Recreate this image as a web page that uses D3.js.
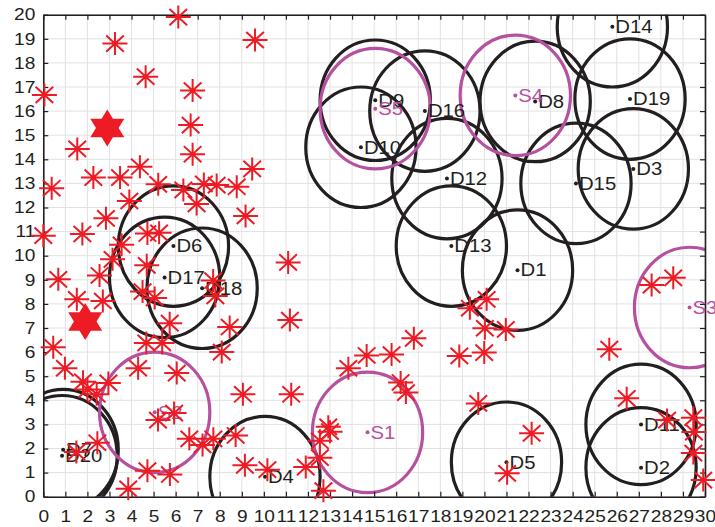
<!DOCTYPE html>
<html>
<head>
<meta charset="utf-8">
<script src="https://cdn.jsdelivr.net/npm/d3@7"></script>
<style>
  body { margin: 0; background: #fff; }
  svg text { font-family: "Liberation Sans", Arial, Helvetica, sans-serif; }
</style>
</head>
<body>
<svg id="chart" width="715" height="527"></svg>
<script>
// Demand points (D) and supply points (S), each with a coverage circle
const dNames = ["D1","D2","D3","D4","D5","D6","D7","D8","D9","D10",
                "D11","D12","D13","D14","D15","D16","D17","D18","D19","D20"];
const dX = [21.5, 27.1, 26.75, 10.05, 21.0, 5.9, 0.9, 22.3, 15.05, 14.4,
            27.1, 18.3, 18.5, 25.8, 24.15, 17.3, 5.5, 7.2, 26.6, 0.85];
const dY = [9.4, 1.2, 13.6, 0.83, 1.43, 10.4, 1.95, 16.4, 16.45, 14.5,
            3.0, 13.2, 10.4, 19.5, 13.0, 16.0, 9.1, 8.65, 16.5, 1.7];

const sNames = ["S1","S2","S3","S4","S5"];
const sX = [14.7, 5.05, 29.3, 21.4, 15.05];
const sY = [2.67, 3.5, 7.85, 16.65, 16.1];

const coverRadius = 2.5;

// Scattered candidate points (asterisks)
const starX = [6.12, 3.25, 9.6, 4.64, 6.77, 0.05, 6.68, 1.54, 6.77, 4.38,
               9.47, 2.27, 3.48, 0.38, 5.21, 6.35, 7.28, 7.86, 8.77, 3.9,
               6.95, 9.17, 2.84, 0.0, 1.77, 4.72, 5.25, 3.55, 11.1, 3.14,
               4.69, 0.68, 2.55, 1.52, 2.7, 4.5, 5.05, 7.7, 7.8, 5.73,
               8.45, 11.18, 4.67, 5.39, 8.09, 0.45, 0.98, 4.3, 6.05, 1.8,
               2.0, 2.42, 2.95, 9.05, 11.24, 5.2, 5.93, 2.45, 1.5, 6.62,
               7.22, 7.71, 8.72, 4.72, 5.74, 3.85, 9.14, 10.16, 11.9, 12.54,
               12.54, 12.92, 13.0, 12.7, 13.83, 14.66, 15.79, 16.8, 16.2, 16.44,
               19.34, 20.1, 20.02, 20.97, 18.86, 19.99, 19.72, 22.14, 21.03, 27.58,
               28.56, 25.66, 26.45, 28.28, 29.47, 29.5, 29.47, 29.92];
const starY = [19.9, 18.8, 18.95, 17.43, 16.85, 16.67, 15.42, 14.43, 14.21, 13.69,
               13.6, 13.24, 13.24, 12.8, 12.96, 12.73, 12.98, 12.93, 12.86, 12.27,
               12.15, 11.65, 11.55, 10.83, 10.9, 10.92, 10.95, 10.45, 9.72, 9.85,
               9.6, 9.02, 9.18, 8.19, 8.12, 8.51, 8.25, 8.97, 8.33, 7.2,
               7.04, 7.33, 6.38, 6.38, 6.0, 6.2, 5.33, 5.33, 5.13, 4.77,
               4.45, 4.25, 4.72, 4.25, 4.25, 3.18, 3.47, 2.24, 1.85, 2.4,
               2.15, 2.4, 2.54, 1.08, 0.92, 0.33, 1.3, 1.12, 1.23, 2.32,
               1.62, 2.9, 2.7, 0.25, 5.33, 5.86, 5.9, 6.57, 4.74, 4.32,
               7.82, 8.19, 6.99, 6.94, 5.84, 5.98, 3.87, 2.63, 0.97, 8.78,
               9.08, 6.12, 4.08, 3.18, 3.28, 2.68, 1.81, 0.69];

// Depots (filled six-pointed stars)
const hexX = [2.9, 1.9];
const hexY = [15.3, 7.27];

const xTicks = d3.range(0, 31);
const yTicks = d3.range(0, 21);

const padL = 43.3, padR = 705, padT = 14.7, padB = 496.7;
const stretch = 1.16;   // text is set slightly wide

const svg = d3.select("#chart");
const x = d3.scaleLinear().domain([0, 30]).range([padL, padR]);
const y = d3.scaleLinear().domain([0, 20]).range([padB, padT]);

const BLACK = "#231f20", RED = "#ed1c24", MAGENTA = "#b5519f";

svg.append("defs").append("clipPath").attr("id", "plotClip")
  .append("rect").attr("x", padL).attr("y", padT)
  .attr("width", padR - padL).attr("height", padB - padT);

// grid
const grid = svg.append("g");
grid.selectAll("line.gx").data(xTicks).join("line")
  .attr("x1", d => x(d)).attr("x2", d => x(d))
  .attr("y1", padT).attr("y2", padB)
  .attr("stroke", "#e2e2e2").attr("stroke-width", 1);
grid.selectAll("line.gy").data(yTicks).join("line")
  .attr("y1", d => y(d)).attr("y2", d => y(d))
  .attr("x1", padL).attr("x2", padR)
  .attr("stroke", "#e2e2e2").attr("stroke-width", 1);

const rx = x(coverRadius) - x(0);
const ry = y(0) - y(coverRadius);

const plot = svg.append("g").attr("clip-path", "url(#plotClip)");
plot.selectAll("ellipse.d").data(dNames).join("ellipse")
  .attr("cx", (d, i) => x(dX[i])).attr("cy", (d, i) => y(dY[i]))
  .attr("rx", rx).attr("ry", ry)
  .attr("fill", "none").attr("stroke", BLACK).attr("stroke-width", 3.2);
plot.selectAll("ellipse.s").data(sNames).join("ellipse")
  .attr("cx", (d, i) => x(sX[i])).attr("cy", (d, i) => y(sY[i]))
  .attr("rx", rx).attr("ry", ry)
  .attr("fill", "none").attr("stroke", MAGENTA).attr("stroke-width", 3.2);

// axes: ticks inward on all four sides
const fs = 16.5;
const axB = svg.append("g").attr("transform", `translate(0,${padB})`)
  .call(d3.axisBottom(x).tickValues(xTicks).tickFormat(d3.format("d"))
        .tickSizeInner(-5).tickSizeOuter(0).tickPadding(14));
const axL = svg.append("g").attr("transform", `translate(${padL},0)`)
  .call(d3.axisLeft(y).tickValues(yTicks).tickFormat(d3.format("d"))
        .tickSizeInner(-5).tickSizeOuter(0).tickPadding(8));
const axT = svg.append("g").attr("transform", `translate(0,${padT})`)
  .call(d3.axisTop(x).tickValues(xTicks).tickFormat("")
        .tickSizeInner(-5).tickSizeOuter(0));
const axR = svg.append("g").attr("transform", `translate(${padR},0)`)
  .call(d3.axisRight(y).tickValues(yTicks).tickFormat("")
        .tickSizeInner(-5).tickSizeOuter(0));
[axB, axL, axT, axR].forEach(g => {
  g.selectAll("path.domain").attr("stroke", BLACK).attr("stroke-width", 1.6);
  g.selectAll(".tick line").attr("stroke", BLACK).attr("stroke-width", 1.2);
  g.selectAll(".tick text").attr("fill", "#231f20").style("font-size", fs + "px");
});
axB.selectAll(".tick text").attr("transform", `scale(${stretch},1)`);
axL.selectAll(".tick text").attr("x", -8 / stretch).attr("transform", `scale(${stretch},1)`);

// point labels
function labels(names, xs, ys, color) {
  const g = svg.append("g");
  names.forEach((n, i) => {
    g.append("circle").attr("cx", x(xs[i])).attr("cy", y(ys[i])).attr("r", 2)
      .attr("fill", color);
    g.append("text")
      .attr("transform", `translate(${x(xs[i]) + 3},${y(ys[i])}) scale(${stretch},1)`)
      .attr("dy", "0.36em").attr("fill", color).style("font-size", "17.5px").text(n);
  });
}
labels(dNames, dX, dY, BLACK);
labels(sNames, sX, sY, MAGENTA);

// asterisks
const starPath = "M-12.5,0H12.5M0,-11.5V11.5M-8.8,-8.1L8.8,8.1M-8.8,8.1L8.8,-8.1";
svg.append("g").selectAll("path").data(starX).join("path")
  .attr("transform", (d, i) => `translate(${x(starX[i])},${y(starY[i])})`)
  .attr("d", starPath).attr("fill", "none")
  .attr("stroke", RED).attr("stroke-width", 2);

// six-pointed filled stars
function hexagram(R) {
  const r = R / Math.sqrt(3), pts = [];
  for (let k = 0; k < 12; k++) {
    const a = -Math.PI / 2 + k * Math.PI / 6;
    const rr = k % 2 === 0 ? R : r;
    pts.push([1.06 * rr * Math.cos(a), rr * Math.sin(a)]);
  }
  return "M" + pts.map(p => p.join(",")).join("L") + "Z";
}
svg.append("g").selectAll("path").data(hexX).join("path")
  .attr("transform", (d, i) => `translate(${x(hexX[i])},${y(hexY[i])})`)
  .attr("d", hexagram(18.5)).attr("fill", RED);
</script>
</body>
</html>
